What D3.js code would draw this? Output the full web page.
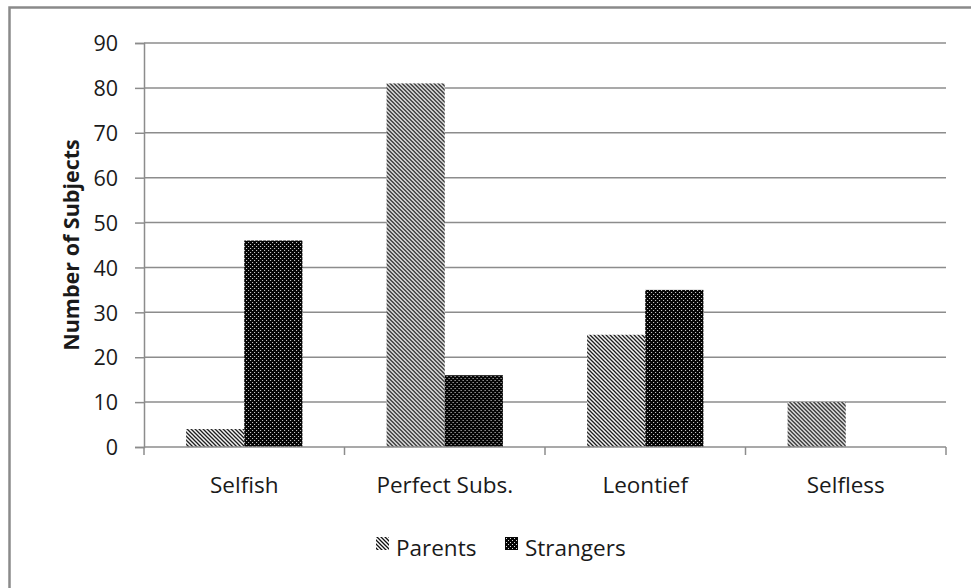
<!DOCTYPE html>
<html lang="en">
<head>
  <meta charset="UTF-8">
  <title>Number of Subjects</title>
  <script src="https://d3js.org/d3.v7.min.js"></script>
  <style>
    body { margin: 0; background: #fff; }
    text { font-family: "Open Sans", sans-serif; fill: #1a1a1a; }
    .tick-label { font-size: 22.5px; }
  </style>
</head>
<body>
  <svg id="chart" width="971" height="588"></svg>
  <script>
    // data
    const categories = ["Selfish", "Perfect Subs.", "Leontief", "Selfless"];
    const seriesNames = ["Parents", "Strangers"];
    const parents = [4, 81, 25, 10];
    const strangers = [46, 16, 35, 0];
    const yTicks = [0, 10, 20, 30, 40, 50, 60, 70, 80, 90];

    const svg = d3.select("#chart");
    const gridColor = "#8c8c8c";

    // fill patterns
    const defs = svg.append("defs");
    const hatch = defs.append("pattern")
      .attr("id", "hatch")
      .attr("patternUnits", "userSpaceOnUse")
      .attr("width", 4).attr("height", 4);
    hatch.append("rect").attr("width", 4).attr("height", 4).attr("fill", "#fff");
    hatch.append("path")
      .attr("d", "M-1,-1 L5,5 M-1,3 L1,5 M3,-1 L5,1")
      .attr("stroke", "#111").attr("stroke-width", 1.3);

    const dots = defs.append("pattern")
      .attr("id", "dots")
      .attr("patternUnits", "userSpaceOnUse")
      .attr("width", 4).attr("height", 4);
    dots.append("rect").attr("width", 4).attr("height", 4).attr("fill", "#050505");
    dots.append("rect").attr("x", 0).attr("y", 0).attr("width", 1).attr("height", 1).attr("fill", "#ddd");
    dots.append("rect").attr("x", 2).attr("y", 2).attr("width", 1).attr("height", 1).attr("fill", "#ddd");

    const fills = { Parents: "url(#hatch)", Strangers: "url(#dots)" };

    // outer frame (only left and top visible in the crop)
    svg.append("rect")
      .attr("x", 9.5).attr("y", 7.5)
      .attr("width", 990).attr("height", 620)
      .attr("fill", "none")
      .attr("stroke", "#8a8a8a").attr("stroke-width", 2.5);

    const plotLeft = 144, plotRight = 946, plotTop = 43, plotBottom = 447;

    const y = d3.scaleLinear().domain([0, 90]).range([plotBottom, plotTop]);
    const x = d3.scaleBand().domain(categories).range([plotLeft, plotRight])
      .paddingInner(0.42).paddingOuter(0.21);
    const xs = d3.scaleBand().domain(seriesNames).range([0, x.bandwidth()]).padding(0);

    // gridlines
    svg.append("g")
      .selectAll("line")
      .data(yTicks.filter(d => d > 0))
      .join("line")
      .attr("x1", plotLeft).attr("x2", plotRight)
      .attr("y1", d => y(d)).attr("y2", d => y(d))
      .attr("stroke", gridColor).attr("stroke-width", 1.5);

    // y axis
    const yAxis = svg.append("g")
      .attr("transform", `translate(${plotLeft},0)`)
      .call(d3.axisLeft(y).tickValues(yTicks).tickSize(9).tickPadding(17));
    yAxis.select(".domain").attr("stroke", gridColor).attr("stroke-width", 1.5);
    yAxis.selectAll(".tick line").attr("stroke", gridColor).attr("stroke-width", 1.5);
    yAxis.selectAll(".tick text")
      .style("font-family", "'Open Sans', sans-serif").style("font-size", "21.5px")
      .attr("fill", "#1a1a1a").attr("dy", "0.36em");

    // bars
    const rows = categories.map((c, i) => ({ cat: c, values: [
      { name: "Parents", v: parents[i] }, { name: "Strangers", v: strangers[i] }
    ] }));

    const groups = svg.append("g").selectAll("g")
      .data(rows).join("g")
      .attr("transform", d => `translate(${x(d.cat)},0)`);
    groups.selectAll("rect")
      .data(d => d.values.filter(s => s.v > 0))
      .join("rect")
      .attr("x", d => xs(d.name))
      .attr("width", xs.bandwidth())
      .attr("y", d => y(d.v))
      .attr("height", d => y(0) - y(d.v))
      .attr("fill", d => fills[d.name]);

    // x axis
    const step = x.step();
    const xAxis = svg.append("g");
    xAxis.append("line")
      .attr("x1", plotLeft).attr("x2", plotRight)
      .attr("y1", plotBottom).attr("y2", plotBottom)
      .attr("stroke", gridColor).attr("stroke-width", 1.5);
    xAxis.selectAll(".xt")
      .data(d3.range(categories.length + 1))
      .join("line")
      .attr("class", "xt")
      .attr("x1", i => plotLeft + i * step).attr("x2", i => plotLeft + i * step)
      .attr("y1", plotBottom).attr("y2", plotBottom + 8)
      .attr("stroke", gridColor).attr("stroke-width", 1.5);
    xAxis.selectAll(".xl")
      .data(categories)
      .join("text")
      .attr("class", "xl tick-label")
      .attr("x", d => x(d) + x.bandwidth() / 2)
      .attr("y", 493)
      .attr("text-anchor", "middle")
      .text(d => d);

    // y title
    svg.append("text")
      .attr("transform", `translate(79,${(plotTop + plotBottom) / 2}) rotate(-90)`)
      .attr("text-anchor", "middle")
      .style("font-size", "21.5px").style("font-weight", "bold")
      .text("Number of Subjects");

    // legend
    const legendItems = [
      { name: "Parents", sx: 376, tx: 396 },
      { name: "Strangers", sx: 505, tx: 525 }
    ];
    const lg = svg.append("g").selectAll("g").data(legendItems).join("g");
    lg.append("rect")
      .attr("x", d => d.sx).attr("y", 537)
      .attr("width", 13).attr("height", 13)
      .attr("fill", d => fills[d.name]);
    lg.append("text")
      .attr("class", "tick-label")
      .attr("x", d => d.tx).attr("y", 556)
      .text(d => d.name);
  </script>
</body>
</html>
